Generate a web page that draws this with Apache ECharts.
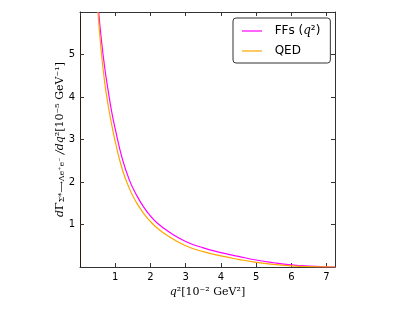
<!DOCTYPE html>
<html><head><meta charset="utf-8">
<script src="https://cdn.jsdelivr.net/npm/echarts@6/dist/echarts.min.js"></script>
<style>html,body{margin:0;padding:0;background:#fff}#c{width:415px;height:312px}</style>
</head><body><div id="c"></div>
<script>
const q2Ffs = [0.53, 0.6, 0.7, 0.8, 0.9, 1.0, 1.2, 1.4, 1.6, 1.8, 2.0, 2.2, 2.5, 3.0, 3.5, 4.0, 4.5, 5.0, 5.5, 6.0, 6.5, 7.0, 7.24];
const ffsVals = [6.0, 5.4, 4.7, 4.15, 3.65, 3.25, 2.55, 2.05, 1.7, 1.42, 1.2, 1.03, 0.84, 0.60, 0.45, 0.34, 0.25, 0.165, 0.10, 0.05, 0.02, 0.004, 0];
const q2Qed = [0.51, 0.6, 0.7, 0.8, 0.9, 1.0, 1.2, 1.4, 1.6, 1.8, 2.0, 2.2, 2.5, 3.0, 3.5, 4.0, 4.5, 5.0, 5.5, 6.0, 6.5, 7.0, 7.24];
const qedVals = [6.0, 5.1, 4.35, 3.8, 3.35, 2.95, 2.3, 1.85, 1.52, 1.27, 1.07, 0.91, 0.73, 0.50, 0.36, 0.26, 0.18, 0.11, 0.06, 0.028, 0.009, 0.001, 0];
const xTicks = [1, 2, 3, 4, 5, 6, 7];
const yTicks = [1, 2, 3, 4, 5];
const seriesNames = ['FFs (q²)', 'QED'];

const chart = echarts.init(document.getElementById('c'), null, {renderer: 'canvas'});
const pairs = (xs, ys) => xs.map((x, i) => [x, ys[i]]);
const axisLineStyle = {color: '#333', width: 1};
const sans = 'DejaVu Sans';
const serif = 'DejaVu Serif';
chart.setOption({
  animation: false,
  grid: {left: 80, right: 80, top: 12, bottom: 45, containLabel: false},
  legend: {
    orient: 'vertical', left: 233, top: 18,
    padding: [7, 10, 6, 9],
    borderColor: '#333', borderWidth: 1, borderRadius: 3,
    icon: 'rect', itemWidth: 20, itemHeight: 1.2, itemGap: 8,
    data: seriesNames,
    formatter: function (n) { return n === 'QED' ? '  QED' : '  FFs ({i|q}²)'; },
    textStyle: {fontFamily: sans, fontSize: 12, color: '#000',
      rich: {i: {fontFamily: serif, fontStyle: 'italic', fontSize: 12}}}
  },
  xAxis: [{
    type: 'value', min: 0, max: 7.24, interval: 1,
    axisLine: {show: true, onZero: false, lineStyle: axisLineStyle},
    axisTick: {show: true, inside: true, length: 4, lineStyle: {color: '#333'}},
    splitLine: {show: false},
    axisLabel: {fontFamily: sans, fontSize: 10, color: '#000', margin: 5,
      showMinLabel: false, showMaxLabel: true,
      formatter: v => (xTicks.indexOf(v) >= 0 ? String(v) : '')},
    name: '{i|q}²[10⁻² GeV²]', nameLocation: 'middle', nameGap: 20, nameMoveOverlap: false,
    nameTextStyle: {fontFamily: serif, fontSize: 11, color: '#000',
      rich: {i: {fontFamily: serif, fontStyle: 'italic', fontSize: 11}}}
  }, {
    type: 'value', min: 0, max: 7.24, interval: 1, position: 'top',
    axisLine: {show: true, onZero: false, lineStyle: axisLineStyle},
    axisTick: {show: true, inside: true, length: 4, lineStyle: {color: '#333'}},
    axisLabel: {show: false}, splitLine: {show: false}
  }],
  yAxis: [{
    type: 'value', min: 0, max: 6, interval: 1,
    axisLine: {show: true, onZero: false, lineStyle: {color: '#2a1a10', width: 1}},
    axisTick: {show: true, inside: true, length: 4, lineStyle: {color: '#333'}},
    splitLine: {show: false},
    axisLabel: {fontFamily: sans, fontSize: 10, color: '#000', margin: 5,
      formatter: v => (yTicks.indexOf(v) >= 0 ? String(v) : '')},
    name: '{i|d}Γ{s|Σ*⟶Λe⁺e⁻}{i| /dq}²[10⁻⁵ GeV⁻¹]', nameLocation: 'middle', nameGap: 14, nameRotate: 90,
    nameMoveOverlap: false,
    nameTextStyle: {fontFamily: serif, fontSize: 11, color: '#000',
      rich: {i: {fontFamily: serif, fontStyle: 'italic', fontSize: 11},
             s: {fontFamily: serif, fontSize: 8, verticalAlign: 'bottom', padding: [4, 0, 0, 0]}}}
  }, {
    type: 'value', min: 0, max: 6, interval: 1, position: 'right',
    axisLine: {show: true, onZero: false, lineStyle: axisLineStyle},
    axisTick: {show: true, inside: true, length: 4, lineStyle: {color: '#333'}},
    axisLabel: {show: false}, splitLine: {show: false}
  }],
  series: [{
    name: seriesNames[0], type: 'line', data: pairs(q2Ffs, ffsVals),
    smooth: 0.5, symbol: 'none', clip: true,
    lineStyle: {color: '#ff00ff', width: 1.2}, itemStyle: {color: '#ff00ff'}
  }, {
    name: seriesNames[1], type: 'line', data: pairs(q2Qed, qedVals),
    smooth: 0.5, symbol: 'none', clip: true,
    lineStyle: {color: '#ffa500', width: 1.2}, itemStyle: {color: '#ffa500'}
  }]
});
</script></body></html>
